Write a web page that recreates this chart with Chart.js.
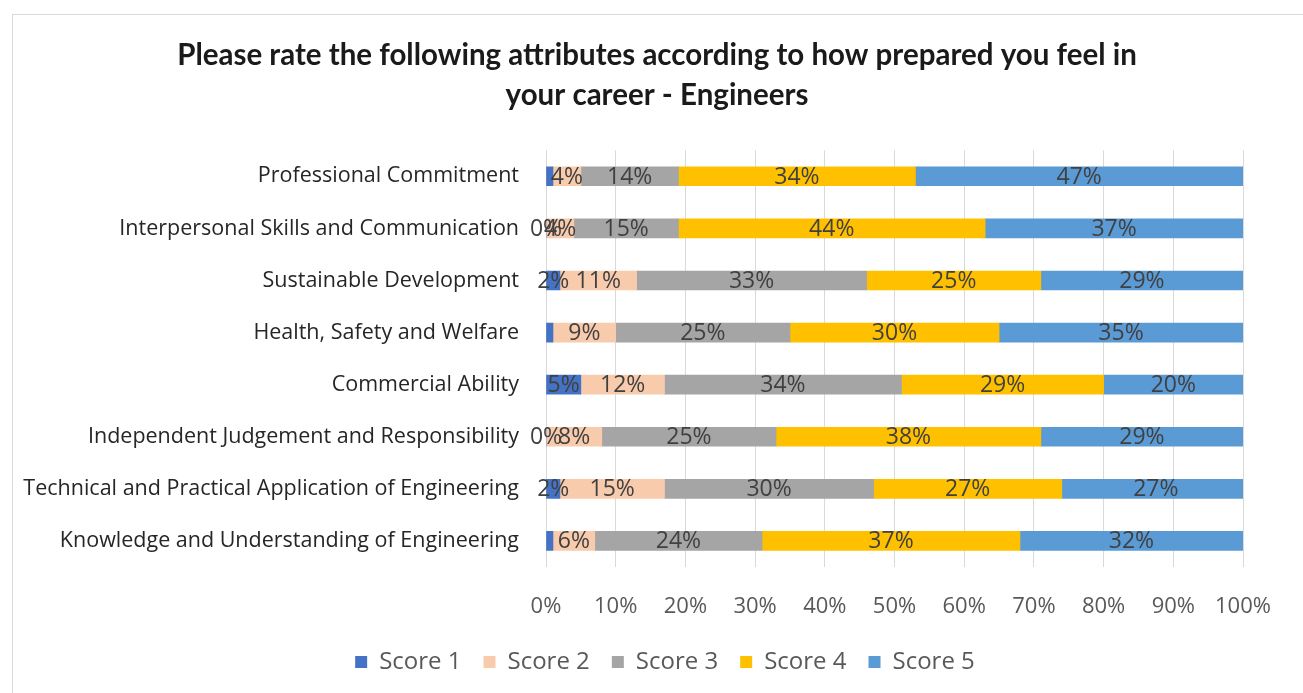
<!DOCTYPE html>
<html><head><meta charset="utf-8">
<script src="https://cdn.jsdelivr.net/npm/chart.js@4.4.0/dist/chart.umd.min.js"></script>
<style>
html,body{margin:0;padding:0;background:#fff;}
#wrap{position:absolute;left:0;top:0;width:1303px;height:693px;overflow:hidden;}
#frame{position:absolute;left:12px;top:14px;width:1400px;height:800px;border:1px solid #d9d9d9;}
canvas{position:absolute;left:0;top:0;}
</style></head>
<body><div id="wrap"><div id="frame"></div><canvas id="c" width="1303" height="693"></canvas></div>
<script>
const categories = [
  "Professional Commitment",
  "Interpersonal Skills and Communication",
  "Sustainable Development",
  "Health, Safety and Welfare",
  "Commercial Ability",
  "Independent Judgement and Responsibility",
  "Technical and Practical Application of Engineering",
  "Knowledge and Understanding of Engineering"
];
const score1 = [1, 0, 2, 1, 5, 0, 2, 1];
const score2 = [4, 4, 11, 9, 12, 8, 15, 6];
const score3 = [14, 15, 33, 25, 34, 25, 30, 24];
const score4 = [34, 44, 25, 30, 29, 38, 27, 37];
const score5 = [47, 37, 29, 35, 20, 29, 27, 32];
const seriesNames = ["Score 1","Score 2","Score 3","Score 4","Score 5"];
const xTicks = [0,10,20,30,40,50,60,70,80,90,100];
const titleLines = ["Please rate the following attributes according to how prepared you feel in","your career - Engineers"];
const colors = ["#4472C4","#F8CBAD","#A5A5A5","#FFC000","#5B9BD5"];
const FONT = "'Open Sans', Lato, sans-serif";

const labelPlugin = {
  id:'barLabels',
  beforeDraw(chart){
    if (chart.titleBlock){ chart.titleBlock.left = 11; chart.titleBlock.right = 1303; }
    if (chart.legend){ chart.legend.left = 27; chart.legend.right = 1303; }
  },
  afterDatasetsDraw(chart){
    const ctx = chart.ctx;
    ctx.save();
    ctx.font = "23px " + FONT;
    ctx.fillStyle = "#404040";
    ctx.textAlign = "center";
    ctx.textBaseline = "middle";
    chart.data.datasets.forEach((ds, di) => {
      const meta = chart.getDatasetMeta(di);
      meta.data.forEach((bar, i) => {
        const v = ds.data[i];
        if (v > 0 && v < 1.5) return;
        const x = (bar.x + bar.base) / 2;
        ctx.fillText(v + "%", x, bar.y + 1);
      });
    });
    ctx.restore();
  }
};

new Chart(document.getElementById('c'), {
  type:'bar',
  data:{
    labels: categories,
    datasets: [score1,score2,score3,score4,score5].map((d,i)=>({
      label: seriesNames[i], data: d, backgroundColor: colors[i],
      barThickness: 19, borderWidth: 0
    }))
  },
  options:{
    indexAxis:'y',
    responsive:false,
    animation:false,
    layout:{padding:{top:0,bottom:9,left:0,right:60}},
    scales:{
      x:{
        stacked:true, min:0, max:100,
        afterBuildTicks(ax){ ax.ticks = xTicks.map(v=>({value:v})); },
        afterFit(ax){ ax.height = 61; },
        grid:{color:"#d9d9d9", drawTicks:false},
        border:{display:false},
        ticks:{padding:27, color:"#595959", font:{family:FONT, size:22}, callback:v=>v+"%"}
      },
      y:{
        stacked:true,
        afterFit(ax){ ax.width = 546; },
        grid:{display:false},
        border:{display:false},
        ticks:{padding:19, color:"#262626", font:{family:FONT, size:21.5}}
      }
    },
    plugins:{
      title:{display:true, text:titleLines,
        color:"#1a1a1a", font:{family:"Lato, sans-serif", size:29.5, weight:'bold', lineHeight:1.36}, padding:{top:35,bottom:35}},
      legend:{position:'bottom', labels:{boxWidth:12, boxHeight:12, padding:22, color:"#595959", font:{family:FONT,size:24}}},
      tooltip:{enabled:false}
    }
  },
  plugins:[labelPlugin]
});
</script></body></html>
